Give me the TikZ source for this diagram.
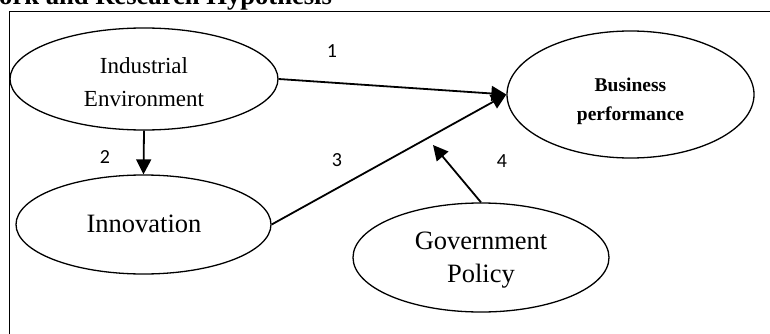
\documentclass[tikz,border=0pt]{standalone}
\usepackage{fontspec}
\setmainfont{Liberation Serif}
\newfontfamily\numfont{Carlito}
\usetikzlibrary{arrows.meta,shapes.geometric}
\tikzset{
  oval/.style={ellipse, draw, line width=1.3pt, inner sep=0pt},
  txt/.style={align=center, inner sep=0pt},
  conn/.style={line width=1.8pt, -{Triangle[length=15pt,width=15pt]}},
  num/.style={font=\numfont\fontsize{20}{20}\selectfont, inner sep=0pt}
}
\begin{document}
\begin{tikzpicture}[x=1pt,y=-1pt]
\useasboundingbox (0,0) rectangle (770,334);
\clip (0,0) rectangle (770,334);
% title (cut off at top, as in the reference)
\node[anchor=base west, inner sep=0pt, font=\bfseries\fontsize{26.6}{30}\selectfont] (title) at (-1,5) {ork and Research Hypothesis};
% frame
\draw[line width=0.9pt] (9,340) -- (9,11) -- (780,11);
% ellipses
\node[oval, minimum width=268pt, minimum height=102pt] (ie) at (144,79) {};
\node[txt, font=\fontsize{23}{33}\selectfont] (ietext) at (144,82.5) {Industrial\\Environment};
\node[oval, minimum width=255pt, minimum height=99pt] (inn) at (143.5,224.5) {};
\node[txt, font=\fontsize{26.5}{33}\selectfont] (inntext) at (144,224) {Innovation};
\node[oval, minimum width=247pt, minimum height=127pt] (bp) at (630.5,94.5) {};
\node[txt, font=\bfseries\fontsize{19.5}{29}\selectfont] (bptext) at (630.5,101.5) {Business\\performance};
\node[oval, minimum width=256pt, minimum height=109pt] (gp) at (481,257.5) {};
\node[txt, font=\fontsize{26.5}{33}\selectfont] (gptext) at (481,260.5) {Government\\Policy};
% connectors
\coordinate (mod) at (433,145);
\draw[conn] (ie.east) -- (bp.west);
\draw[conn] (ie.south) -- (inn.north);
\draw[conn] (inn.east) -- (bp.west);
\draw[conn] (gp.north) -- (mod);
% labels
\node[num] (n1) at (332,51) {1};
\node[num] (n2) at (105,157) {2};
\node[num] (n3) at (337,160) {3};
\node[num] (n4) at (502,161) {4};
\end{tikzpicture}
\end{document}
